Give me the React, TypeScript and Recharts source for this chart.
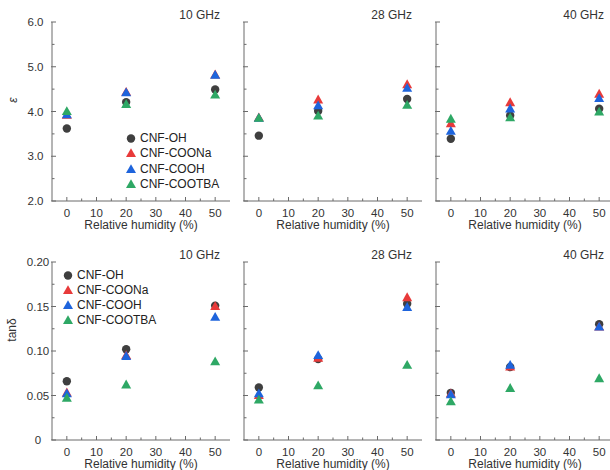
import React from 'react';
import { ScatterChart, Scatter, XAxis, YAxis, Legend } from 'recharts';

// ---------------- data ----------------
const humidity = [0, 20, 50];
const frequencies = ['10 GHz', '28 GHz', '40 GHz'];
const seriesNames = ['CNF-OH', 'CNF-COONa', 'CNF-COOH', 'CNF-COOTBA'];
const seriesColors = ['#3f3f3f', '#e83a3a', '#1e64dc', '#2ea865'];
const seriesShapes = ['circle', 'triangle', 'triangle', 'triangle'];

// permittivity ε  (rows: 10, 28, 40 GHz; cols: 0, 20, 50 % RH)
const epsOH = [[3.62, 4.21, 4.49], [3.46, 4.01, 4.28], [3.39, 3.91, 4.06]];
const epsCOONa = [[3.92, 4.43, 4.82], [3.86, 4.26, 4.6], [3.73, 4.2, 4.39]];
const epsCOOH = [[3.93, 4.42, 4.81], [3.85, 4.13, 4.52], [3.56, 4.06, 4.29]];
const epsCOOTBA = [[4.0, 4.16, 4.37], [3.85, 3.9, 4.14], [3.83, 3.86, 3.99]];

// loss tangent tanδ
const tanOH = [[0.066, 0.102, 0.151], [0.059, 0.091, 0.153], [0.053, 0.082, 0.13]];
const tanCOONa = [[0.053, 0.095, 0.15], [0.05, 0.092, 0.16], [0.052, 0.082, 0.127]];
const tanCOOH = [[0.052, 0.094, 0.138], [0.052, 0.095, 0.149], [0.051, 0.084, 0.127]];
const tanCOOTBA = [[0.047, 0.062, 0.088], [0.045, 0.061, 0.084], [0.043, 0.058, 0.069]];

// ticks
const xTicks = [0, 5, 10, 15, 20, 25, 30, 35, 40, 45, 50];
const xMajor = [0, 10, 20, 30, 40, 50];
const epsTicks = [2, 2.5, 3, 3.5, 4, 4.5, 5, 5.5, 6];
const epsMajor = [2, 3, 4, 5, 6];
const tanTicks = [0, 0.025, 0.05, 0.075, 0.1, 0.125, 0.15, 0.175, 0.2];
const tanMajor = [0, 0.05, 0.1, 0.15, 0.2];
const tanLabels = ['0', '0.05', '0.10', '0.15', '0.20'];

// ---------------- styling ----------------
const AXIS = '#6a6a6a';
const TXT = '#333';
const FONT = '"Liberation Sans", Arial, Helvetica, sans-serif';
const PLOT_W = 178;
const Y_W = 52;

const isIn = (arr: number[], v: number) => arr.findIndex((m) => Math.abs(m - v) < 1e-9);

function Marker({ kind, cx, cy, fill }: any) {
  if (kind === 'circle') return <circle cx={cx} cy={cy} r={4.2} fill={fill} />;
  return (
    <polygon
      points={`${cx},${cy - 5.3} ${cx - 5},${cy + 3.6} ${cx + 5},${cy + 3.6}`}
      fill={fill}
    />
  );
}

function makeYTick(showLabel: boolean, majors: number[], labels: string[], center: number) {
  return (props: any) => {
    const { x, y, payload } = props;
    const idx = isIn(majors, payload.value);
    const major = idx >= 0;
    return (
      <g>
        <line x1={x - (major ? 1 : 0)} x2={x + (major ? 4 : 2.5)} y1={y} y2={y} stroke={AXIS} strokeWidth={1} />
        {major && showLabel && (
          <text x={x - center} y={y} dy="0.35em" textAnchor="middle" fontSize={11.5} fill={TXT} fontFamily={FONT}>
            {labels[idx]}
          </text>
        )}
      </g>
    );
  };
}

const XTick = (props: any) => {
  const { x, y, payload } = props;
  const major = isIn(xMajor, payload.value) >= 0;
  return (
    <g>
      <line x1={x} x2={x} y1={y} y2={y - (major ? 4 : 2.5)} stroke={AXIS} strokeWidth={1} />
      {major && (
        <text x={x} y={y + 11.5} dy="0.35em" textAnchor="middle" fontSize={11.5} fill={TXT} fontFamily={FONT}>
          {String(payload.value)}
        </text>
      )}
    </g>
  );
};

function makeLegend(rowH: number) {
  return () => (
    <div style={{ fontFamily: FONT, fontSize: 12, color: '#222' }}>
      {seriesNames.map((n, i) => (
        <div key={n} style={{ display: 'flex', alignItems: 'center', height: rowH, whiteSpace: 'nowrap' }}>
          <svg width={12} height={12} style={{ marginRight: 3, display: 'block' }}>
            <Marker kind={seriesShapes[i]} cx={6} cy={6.5} fill={seriesColors[i]} />
          </svg>
          <span>{n}</span>
        </div>
      ))}
    </div>
  );
}

interface PanelProps {
  plotLeft: number;
  plotTop: number;
  plotH: number;
  f: number;
  kind: 'eps' | 'tan';
}

function Panel({ plotLeft, plotTop, plotH, f, kind }: PanelProps) {
  const isEps = kind === 'eps';
  const sets = isEps ? [epsOH, epsCOONa, epsCOOH, epsCOOTBA] : [tanOH, tanCOONa, tanCOOH, tanCOOTBA];
  const showY = f === 0;
  const yTicks = isEps ? epsTicks : tanTicks;
  const yDomain = isEps ? [2, 6] : [0, 0.2];
  const yTick = isEps
    ? makeYTick(showY, epsMajor, epsMajor.map((v) => v.toFixed(1)), 16.5)
    : makeYTick(showY, tanMajor, tanLabels, 14);

  const yLabel = (p: any) => {
    if (!showY) return null;
    const vb = p.viewBox;
    const cy = isEps ? vb.y + 78 : vb.y + 68;
    const cx = isEps ? 13 : 12;
    return (
      <text
        transform={`translate(${cx},${cy}) rotate(-90)`}
        textAnchor="middle"
        dy="0.35em"
        fontSize={12}
        fill={TXT}
        fontFamily={FONT}
        fontStyle={isEps ? 'italic' : 'normal'}
      >
        {isEps ? 'ε' : 'tanδ'}
      </text>
    );
  };

  const xLabel = (p: any) => {
    const vb = p.viewBox;
    return (
      <g>
        <text x={vb.x + vb.width / 2} y={vb.y + 24} dy="0.35em" textAnchor="middle" fontSize={12} fill={TXT} fontFamily={FONT}>
          Relative humidity (%)
        </text>
        <text x={vb.x + vb.width - 10} y={vb.y - plotH - 7} dy="0.35em" textAnchor="end" fontSize={12} fill={TXT} fontFamily={FONT}>
          {frequencies[f]}
        </text>
      </g>
    );
  };

  return (
    <div style={{ position: 'absolute', left: plotLeft - Y_W, top: plotTop - 20 }}>
      <ScatterChart
        width={Y_W + PLOT_W + 5}
        height={20 + plotH + 40}
        margin={{ top: 20, right: 5, bottom: 0, left: 0 }}
      >
        <XAxis
          xAxisId={0}
          type="number"
          dataKey="x"
          domain={[-5, 55]}
          ticks={xTicks}
          interval={0}
          height={40}
          tickSize={0}
          tickMargin={0}
          tickLine={false}
          tick={XTick}
          axisLine={{ stroke: AXIS, strokeWidth: 1 }}
          label={{ content: xLabel }}
        />
        <XAxis
          xAxisId="top"
          orientation="top"
          type="number"
          domain={[-5, 55]}
          height={0}
          tick={false}
          tickLine={false}
          axisLine={{ stroke: AXIS, strokeWidth: 1 }}
        />
        <YAxis
          yAxisId={0}
          type="number"
          dataKey="y"
          domain={yDomain}
          ticks={yTicks}
          interval={0}
          width={Y_W}
          tickSize={0}
          tickMargin={0}
          tickLine={false}
          tick={yTick}
          axisLine={{ stroke: AXIS, strokeWidth: 1 }}
          label={{ content: yLabel }}
        />
        <YAxis
          yAxisId="right"
          orientation="right"
          type="number"
          domain={yDomain}
          width={0}
          tick={false}
          tickLine={false}
          axisLine={{ stroke: AXIS, strokeWidth: 1 }}
        />
        {showY && (
          <Legend
            layout="vertical"
            align="center"
            verticalAlign="middle"
            content={makeLegend(isEps ? 15.3 : 15.1)}
            wrapperStyle={
              isEps
                ? { left: 125, top: 128.3, width: 'auto', height: 'auto' }
                : { left: 62, top: 25.1, width: 'auto', height: 'auto' }
            }
          />
        )}
        {seriesNames.map((name, i) => (
          <Scatter
            key={name}
            name={name}
            xAxisId={0}
            yAxisId={0}
            data={humidity.map((h, j) => ({ x: h, y: sets[i][f][j] }))}
            fill={seriesColors[i]}
            isAnimationActive={false}
            shape={(p: any) => <Marker kind={seriesShapes[i]} cx={p.cx} cy={p.cy} fill={seriesColors[i]} />}
          />
        ))}
      </ScatterChart>
    </div>
  );
}

const panelLefts = [52, 244, 436];

export default function App() {
  return (
    <div
      style={{
        position: 'absolute',
        left: 0,
        top: 0,
        width: 610,
        height: 470,
        overflow: 'hidden',
        background: '#fff',
        fontFamily: FONT,
      }}
    >
      {panelLefts.map((l, f) => (
        <Panel key={'e' + f} plotLeft={l} plotTop={22} plotH={179} f={f} kind="eps" />
      ))}
      {panelLefts.map((l, f) => (
        <Panel key={'t' + f} plotLeft={l} plotTop={262} plotH={178} f={f} kind="tan" />
      ))}
    </div>
  );
}
